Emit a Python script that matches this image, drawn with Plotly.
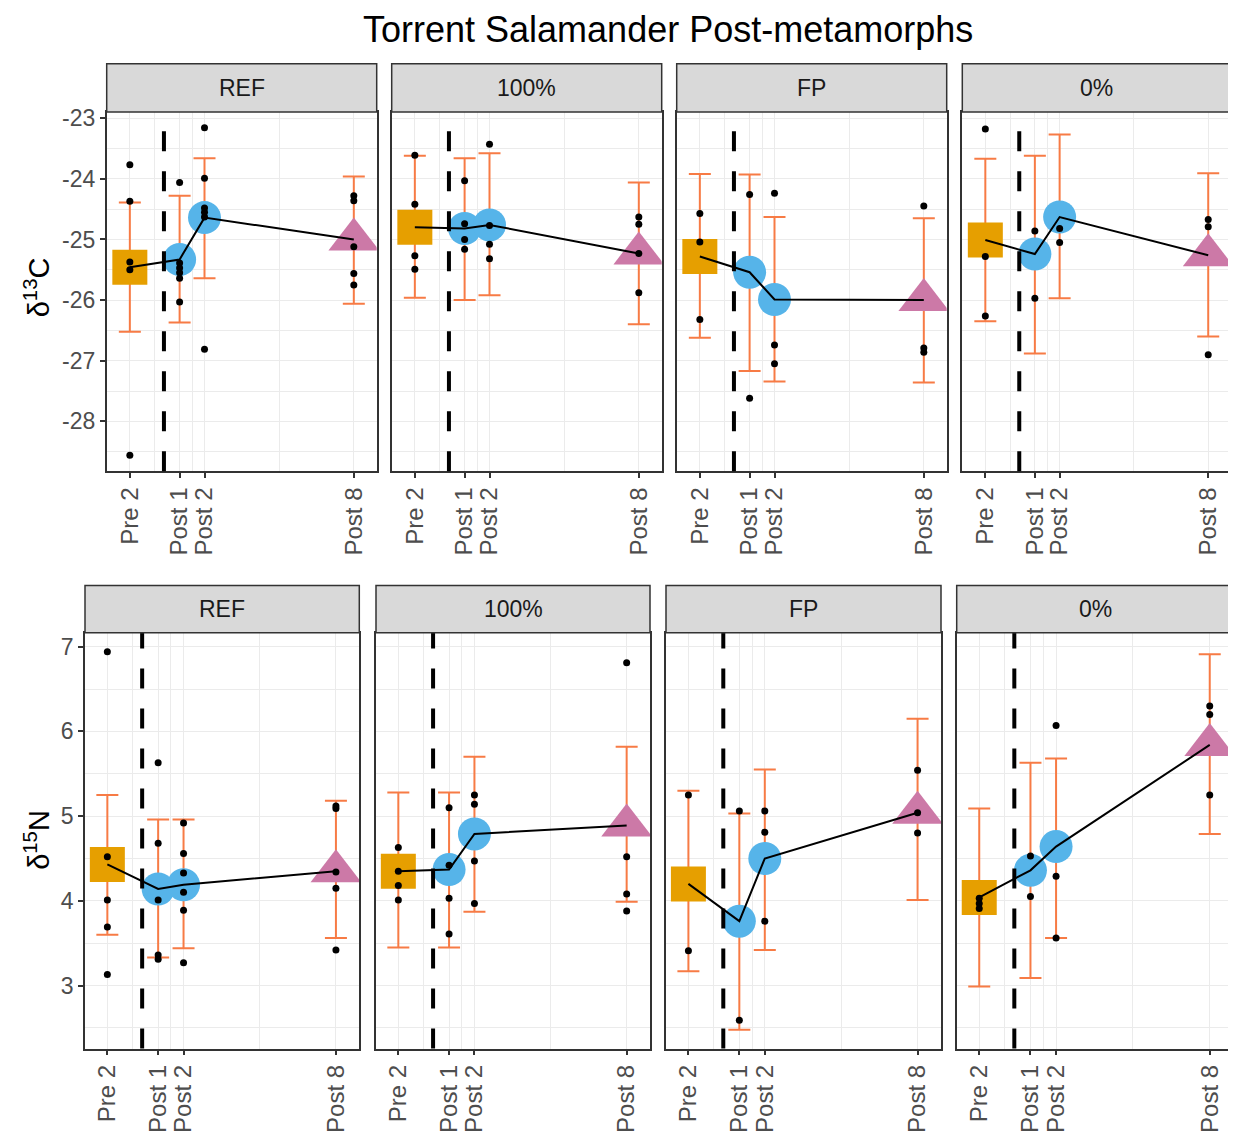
import plotly.graph_objects as go

# ---------------- data ----------------
TITLE = "Torrent Salamander Post-metamorphs"
treatments = ["REF", "100%", "FP", "0%"]
time_labels = ["Pre 2", "Post 1", "Post 2", "Post 8"]
time_x = [-1, 1, 2, 8]
minor_x = [0, 1.5, 5]
divider_x = 0.37

c13_ticks = [-28, -27, -26, -25, -24, -23]
c13_tick_labels = ["-28", "-27", "-26", "-25", "-24", "-23"]
c13_minor = [-28.5, -27.5, -26.5, -25.5, -24.5, -23.5]
n15_ticks = [3, 4, 5, 6, 7]
n15_tick_labels = ["3", "4", "5", "6", "7"]
n15_minor = [2.5, 3.5, 4.5, 5.5, 6.5]

c13_mean = {
    "REF": [-25.46, -25.33, -24.64, -25.00],
    "100%": [-24.80, -24.82, -24.76, -25.23],
    "FP": [-25.28, -25.54, -25.99, -26.00],
    "0%": [-25.01, -25.24, -24.63, -25.26],
}
c13_hi = {
    "REF": [-24.39, -24.28, -23.66, -23.96],
    "100%": [-23.62, -23.66, -23.58, -24.06],
    "FP": [-23.92, -23.93, -24.63, -24.65],
    "0%": [-23.67, -23.62, -23.27, -23.91],
}
c13_lo = {
    "REF": [-26.52, -26.37, -25.64, -26.06],
    "100%": [-25.96, -26.00, -25.92, -26.40],
    "FP": [-26.62, -27.17, -27.34, -27.36],
    "0%": [-26.35, -26.88, -25.97, -26.60],
}
c13_pts = {
    "REF": [[-23.77, -24.37, -25.37, -25.50, -28.56],
            [-24.06, -25.39, -25.47, -25.55, -25.64, -26.03],
            [-23.16, -23.99, -24.48, -24.55, -24.63, -26.81],
            [-24.28, -24.36, -25.12, -25.56, -25.75]],
    "100%": [[-23.61, -24.42, -25.27, -25.49],
             [-24.03, -24.74, -25.00, -25.16],
             [-23.43, -24.77, -25.08, -25.32],
             [-24.63, -24.75, -25.23, -25.88]],
    "FP": [[-24.57, -25.04, -26.32],
           [-24.26, -27.62],
           [-24.24, -26.74, -27.05],
           [-24.45, -26.79, -26.86]],
    "0%": [[-23.18, -25.28, -26.26],
           [-24.86, -25.97],
           [-24.82, -25.05],
           [-24.67, -24.79, -26.90]],
}

n15_mean = {
    "REF": [4.43, 4.14, 4.19, 4.35],
    "100%": [4.35, 4.37, 4.79, 4.89],
    "FP": [4.20, 3.76, 4.50, 5.04],
    "0%": [4.04, 4.36, 4.64, 5.84],
}
n15_hi = {
    "REF": [5.25, 4.96, 4.96, 5.18],
    "100%": [5.28, 5.28, 5.70, 5.82],
    "FP": [5.30, 5.03, 5.55, 6.15],
    "0%": [5.09, 5.63, 5.68, 6.91],
}
n15_lo = {
    "REF": [3.60, 3.33, 3.44, 3.56],
    "100%": [3.45, 3.45, 3.87, 3.99],
    "FP": [3.17, 2.48, 3.42, 4.01],
    "0%": [2.99, 3.09, 3.56, 4.79],
}
n15_pts = {
    "REF": [[6.94, 4.52, 4.01, 3.69, 3.13],
            [5.63, 4.68, 4.01, 3.36, 3.31],
            [4.92, 4.56, 4.33, 4.10, 3.89, 3.27],
            [5.12, 5.09, 4.34, 4.15, 3.42]],
    "100%": [[4.63, 4.35, 4.18, 4.01],
             [5.10, 4.42, 4.03, 3.61],
             [5.25, 5.14, 4.47, 3.97],
             [6.81, 4.52, 4.08, 3.88]],
    "FP": [[5.25, 3.41],
           [5.06, 2.59],
           [5.06, 4.81, 3.76],
           [5.54, 5.04, 4.80]],
    "0%": [[4.03, 3.97, 3.91],
           [4.53, 4.05],
           [6.07, 4.29, 3.56],
           [6.30, 6.20, 5.25]],
}

# ---------------- styles / layout ----------------
OFF = 8  # page body margin in the browser
W, H = 1236 - OFF, 1133 - OFF
FONT = "Arial, Liberation Sans, sans-serif"
time_symbols = ["square", "circle", "circle", "triangle-up"]
time_colors = ["#E69F00", "#56B4E9", "#56B4E9", "#CC79A7"]
time_sizes = [35, 33, 33, 44]
ERR_COLOR = "#F77B45"
BORDER = "#333333"
GRID = "#EBEBEB"

rows = [
    dict(title="δ<sup>13</sup>C", mean=c13_mean, hi=c13_hi, lo=c13_lo, pts=c13_pts,
         ticks=c13_ticks, ticklabels=c13_tick_labels, minor=c13_minor,
         yrange=[-28.82, -22.9], xrange=[-1.93, 8.92],
         ypx=(105.7, 467.0), strip_top=57.0,
         xpx=[(106.7, 376.7), (391.7, 661.7), (676.7, 946.7), (962.3, 1231.0)],
         title_xy=(37, 282)),
    dict(title="δ<sup>15</sup>N", mean=n15_mean, hi=n15_hi, lo=n15_lo, pts=n15_pts,
         ticks=n15_ticks, ticklabels=n15_tick_labels, minor=n15_minor,
         yrange=[2.257, 7.163], xrange=[-1.88, 8.92],
         ypx=(629.7, 1048.0), strip_top=582.0,
         xpx=[(85.0, 359.3), (376.0, 650.0), (666.0, 941.0), (956.7, 1233.3)],
         title_xy=(37, 838)),
]


def px_x(v):
    return (v - OFF) / W


def px_y(v):
    return 1 - (v - OFF) / H


fig = go.Figure()
shapes = []
annotations = []
layout_axes = {}

for r, row in enumerate(rows):
    for c, tr in enumerate(treatments):
        idx = r * 4 + c + 1
        xname = "x" if idx == 1 else f"x{idx}"
        yname = "y" if idx == 1 else f"y{idx}"
        xkey = "xaxis" if idx == 1 else f"xaxis{idx}"
        ykey = "yaxis" if idx == 1 else f"yaxis{idx}"

        mean = row["mean"][tr]
        hi = row["hi"][tr]
        lo = row["lo"][tr]
        pts = row["pts"][tr]

        # error bars + group shapes
        fig.add_trace(go.Scatter(
            x=time_x, y=mean, mode="markers", xaxis=xname, yaxis=yname,
            showlegend=False, hoverinfo="skip",
            marker=dict(symbol=time_symbols, color=time_colors, size=time_sizes,
                        opacity=1, line=dict(width=0)),
            error_y=dict(type="data", symmetric=False,
                         array=[h - m for h, m in zip(hi, mean)],
                         arrayminus=[m - l for m, l in zip(mean, lo)],
                         color=ERR_COLOR, thickness=2, width=11),
        ))
        # connecting line through the means
        fig.add_trace(go.Scatter(
            x=time_x, y=mean, mode="lines", xaxis=xname, yaxis=yname,
            showlegend=False, hoverinfo="skip",
            line=dict(color="black", width=2),
        ))
        # individual animals
        dx, dy = [], []
        for tx, plist in zip(time_x, pts):
            for p in plist:
                dx.append(tx)
                dy.append(p)
        fig.add_trace(go.Scatter(
            x=dx, y=dy, mode="markers", xaxis=xname, yaxis=yname,
            showlegend=False, hoverinfo="skip",
            marker=dict(color="black", size=7, line=dict(width=0)),
        ))

        x0, x1 = row["xpx"][c]
        y0, y1 = row["ypx"]
        layout_axes[xkey] = dict(
            domain=[px_x(x0), px_x(x1)], anchor=yname, range=row["xrange"],
            tickmode="array", tickvals=time_x, ticktext=time_labels, tickangle=-90,
            ticks="outside", ticklen=5, tickwidth=1.5, tickcolor=BORDER,
            tickfont=dict(family=FONT, size=24, color="#4D4D4D"),
            showgrid=True, gridcolor=GRID, gridwidth=1.3,
            minor=dict(tickvals=minor_x, showgrid=True, gridcolor=GRID, gridwidth=0.7, ticks=""),
            showline=True, mirror=True, linecolor=BORDER, linewidth=1.5,
            zeroline=False, fixedrange=True,
        )
        first = (c == 0)
        layout_axes[ykey] = dict(
            domain=[px_y(y1), px_y(y0)], anchor=xname, range=row["yrange"],
            tickmode="array", tickvals=row["ticks"], ticktext=row["ticklabels"],
            ticks="outside" if first else "", ticklen=5, tickwidth=1.5, tickcolor=BORDER,
            showticklabels=first,
            tickfont=dict(family=FONT, size=23, color="#4D4D4D"),
            showgrid=True, gridcolor=GRID, gridwidth=1.3,
            minor=dict(tickvals=row["minor"], showgrid=True, gridcolor=GRID, gridwidth=0.7, ticks=""),
            showline=True, mirror=True, linecolor=BORDER, linewidth=1.5,
            zeroline=False, fixedrange=True,
        )

        # dashed divider (metamorphosis)
        shapes.append(dict(
            type="line", xref=xname, yref=f"{yname} domain",
            x0=divider_x, x1=divider_x, y0=0, y1=1, layer="above",
            line=dict(color="black", width=4, dash="20px,20px"),
        ))
        # facet strip
        shapes.append(dict(
            type="rect", xref="paper", yref="paper",
            x0=px_x(x0), x1=px_x(x1), y0=px_y(y0), y1=px_y(row["strip_top"]),
            fillcolor="#D9D9D9", line=dict(color=BORDER, width=1.5), layer="above",
        ))
        annotations.append(dict(
            text=tr, xref="paper", yref="paper",
            x=px_x((x0 + x1) / 2), y=px_y((y0 + row["strip_top"]) / 2),
            xanchor="center", yanchor="middle", showarrow=False,
            font=dict(family=FONT, size=23, color="#1A1A1A"),
        ))

    tx, ty = row["title_xy"]
    annotations.append(dict(
        text=row["title"], xref="paper", yref="paper", x=px_x(tx), y=px_y(ty),
        xanchor="center", yanchor="middle", textangle=-90, showarrow=False,
        font=dict(family=FONT, size=29, color="black"),
    ))

annotations.append(dict(
    text=TITLE, xref="paper", yref="paper", x=px_x(668), y=px_y(23),
    xanchor="center", yanchor="middle", showarrow=False,
    font=dict(family=FONT, size=36, color="black"),
))

fig.update_layout(
    width=W, height=H, autosize=False,
    margin=dict(l=0, r=0, t=0, b=0),
    paper_bgcolor="white", plot_bgcolor="white",
    showlegend=False,
    shapes=shapes, annotations=annotations,
    **layout_axes,
)

fig.write_html("out.html")
